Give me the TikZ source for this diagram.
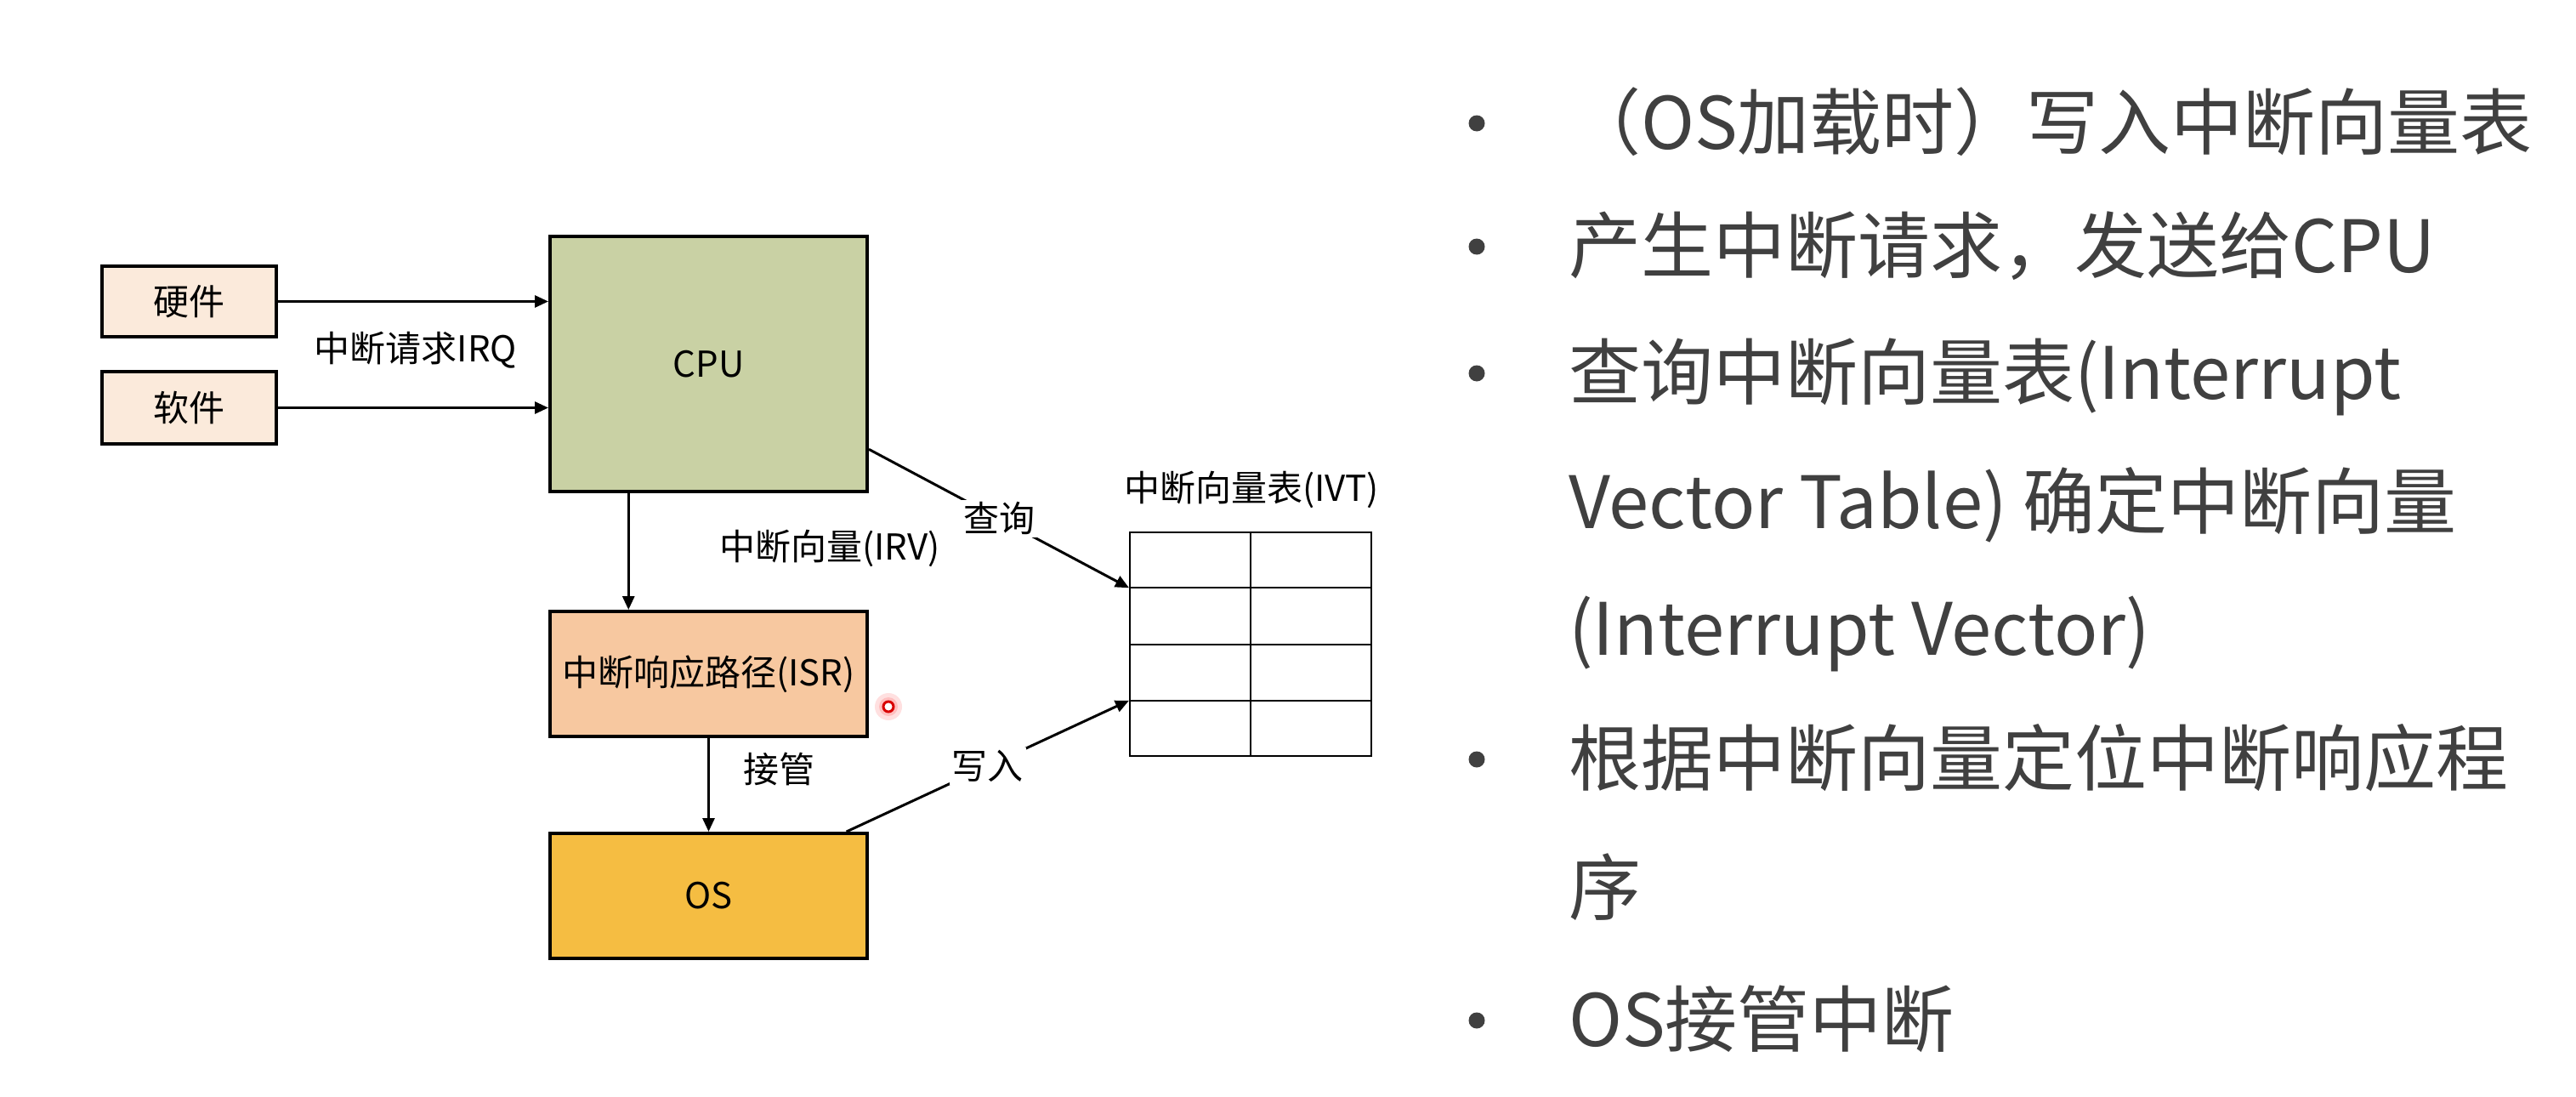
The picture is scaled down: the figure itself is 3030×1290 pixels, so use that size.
\documentclass[tikz,border=0pt]{standalone}
\usepackage{fontspec}
\setmainfont{Noto Sans CJK SC}
\usetikzlibrary{arrows.meta,calc}
\definecolor{peach}{HTML}{FBEADB}
\definecolor{cpugreen}{HTML}{C9D1A4}
\definecolor{isrorange}{HTML}{F7C8A0}
\definecolor{osyellow}{HTML}{F5BD42}
\definecolor{txtgray}{HTML}{404040}
\begin{document}
\begin{tikzpicture}[x=1pt,y=-1pt,
  box/.style={draw=black, line width=4pt, inner sep=0pt, font=\fontsize{42}{48}\selectfont},
  conn/.style={line width=3pt, -{Triangle[length=16pt,width=14pt]}},
  lbl/.style={font=\fontsize{42}{48}\selectfont, inner sep=3pt},
  bul/.style={font=\fontsize{85}{100}\selectfont, text=txtgray, anchor=base west, inner sep=0pt},
  dotb/.style={fill=txtgray}]
\useasboundingbox[fill=white] (0,0) rectangle (3030,1290);

% boxes
\node[box, fill=peach, minimum width=205pt, minimum height=83pt] (hw) at (222.5,354.5) {硬件};
\node[box, fill=peach, minimum width=205pt, minimum height=85pt] (sw) at (222.5,479.5) {软件};
\node[box, fill=cpugreen, minimum width=373pt, minimum height=300pt] (cpu) at (833.5,428) {CPU};
\node[box, fill=isrorange, minimum width=373pt, minimum height=147pt] (isr) at (833.5,792.5) {中断响应路径(ISR)};
\node[box, fill=osyellow, minimum width=373pt, minimum height=147pt] (os) at (833.5,1053.5) {OS};

% vector table
\node[draw=black, line width=2pt, minimum width=284pt, minimum height=263pt, inner sep=0pt] (ivt) at (1471,757.5) {};
\draw[line width=2pt] (ivt.north) -- (ivt.south);
\foreach \f in {0.25,0.5,0.75}
  \draw[line width=2pt] ($(ivt.north west)!\f!(ivt.south west)$) -- ($(ivt.north east)!\f!(ivt.south east)$);
\node[lbl] (ivtlbl) at (1472,576) {中断向量表(IVT)};

% connectors
\draw[conn] (hw.east) -- (hw.east -| cpu.west);
\draw[conn] (sw.east) -- (sw.east -| cpu.west);
\node[lbl] (irq) at (489,412) {中断请求IRQ};

\coordinate (cpubot) at ($(cpu.south west)!0.25!(cpu.south east)$);
\draw[conn] (cpubot) -- (cpubot |- isr.north);
\node[lbl] (irv) at (976,645) {中断向量(IRV)};

\draw[conn] (isr.south) -- (os.north);
\node[lbl] (jg) at (916,904) {接管};

\coordinate (cpuout) at ($(cpu.north east)!0.83!(cpu.south east)$);
\coordinate (ivtin1) at ($(ivt.north west)!0.25!(ivt.south west)$);
\draw[conn] (cpuout) -- node[lbl, fill=white, midway] (cx) {查询} (ivtin1);

\coordinate (osout) at ($(os.north west)!0.93!(os.north east)$);
\coordinate (ivtin3) at ($(ivt.north west)!0.75!(ivt.south west)$);
\draw[conn] (osout) -- node[lbl, fill=white, midway] (xr) {写入} (ivtin3);

% laser pointer dot
\fill[red!12] (1045,831) circle (16);
\fill[red!25] (1045,831) circle (11);
\draw[red!85!black, line width=3pt, fill=white] (1045,831) circle (6);

% right-hand bullet list
\foreach \y in {145,290,439,893,1200}
  \fill[txtgray] (1737,\y) circle (9.5);
\node[bul] (l1) at (1845,175) {（OS加载时）写入中断向量表};
\node[bul] (l2) at (1845,320) {产生中断请求，发送给CPU};
\node[bul] (l3) at (1845,469) {查询中断向量表(Interrupt};
\node[bul] (l4) at (1845,621) {Vector Table) 确定中断向量};
\node[bul] (l5) at (1845,770) {(Interrupt Vector)};
\node[bul] (l6) at (1845,923) {根据中断向量定位中断响应程};
\node[bul] (l7) at (1845,1075) {序};
\node[bul] (l8) at (1845,1230) {OS接管中断};
\end{tikzpicture}
\end{document}
